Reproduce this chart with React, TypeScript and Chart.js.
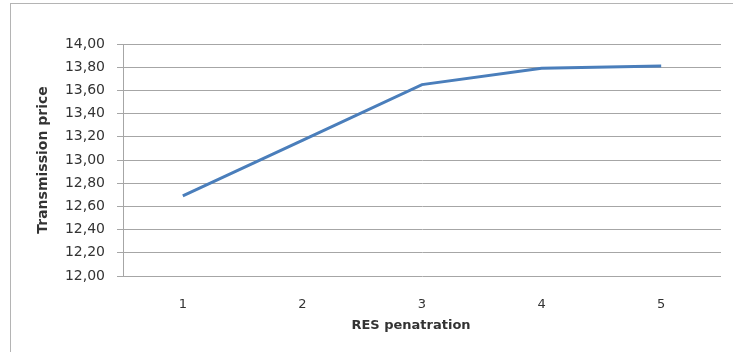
import React, { useEffect, useRef } from "react";
import { Chart, registerables } from "chart.js";

Chart.register(...registerables);

const categories = ["1", "2", "3", "4", "5"];
const priceValues = [12.69, 13.17, 13.65, 13.79, 13.81];
const yMin = 12;
const yMax = 14;
const yStep = 0.2;
const xTitle = "RES penatration";
const yTitle = "Transmission price";

export default function App() {
  const ref = useRef<HTMLCanvasElement | null>(null);

  useEffect(() => {
    if (!ref.current) return;
    const family = "'DejaVu Sans', sans-serif";
    const chart = new Chart(ref.current, {
      type: "line",
      data: {
        labels: categories,
        datasets: [
          {
            data: priceValues,
            borderColor: "#4a7ebb",
            borderWidth: 3,
            pointRadius: 0,
            tension: 0,
            fill: false,
          },
        ],
      },
      options: {
        animation: false,
        responsive: false,
        maintainAspectRatio: false,
        layout: { padding: { left: 0, right: 12, top: 44, bottom: 0 } },
        plugins: { legend: { display: false }, tooltip: { enabled: false } },
        scales: {
          x: {
            type: "category",
            offset: true,
            grid: { display: false, drawTicks: false },
            border: { display: false },
            ticks: { color: "#333", font: { family, size: 13 }, padding: 21 },
            title: {
              display: false,
            },
            afterFit: (s: any) => {
              s.height = 76;
            },
          },
          y: {
            min: yMin,
            max: yMax,
            ticks: {
              stepSize: yStep,
              color: "#333",
              font: { family, size: 14 },
              padding: 12,
              callback: (v: any) => Number(v).toFixed(2).replace(".", ","),
            },
            grid: { color: "#a6a6a6", lineWidth: 1, tickLength: 6, drawTicks: true },
            border: { display: true, color: "#a6a6a6" },
            title: {
              display: true,
              text: yTitle,
              color: "#333",
              font: { family, size: 14, weight: "bold" },
              padding: { top: 35, bottom: 0 },
            },
            afterFit: (s: any) => {
              s.width = 123;
            },
          },
        },
      },
    });
    return () => chart.destroy();
  }, []);

  return (
    <div
      style={{
        position: "fixed",
        left: 0,
        top: 0,
        width: 733,
        height: 352,
        background: "#fff",
        overflow: "hidden",
      }}
    >
      <div
        style={{
          position: "absolute",
          left: 10,
          top: 3,
          width: 760,
          height: 420,
          border: "1px solid #b4b4b4",
        }}
      />
      <canvas
        ref={ref}
        width={733}
        height={352}
        style={{ position: "absolute", left: 0, top: 0, width: 733, height: 352 }}
      />
      <div
        style={{
          position: "absolute",
          left: 311,
          top: 316,
          width: 200,
          textAlign: "center",
          fontFamily: family2,
          fontSize: 13,
          fontWeight: "bold",
          color: "#333",
          lineHeight: "18px",
        }}
      >
        {xTitle}
      </div>
    </div>
  );
}

const family2 = "'DejaVu Sans', sans-serif";
